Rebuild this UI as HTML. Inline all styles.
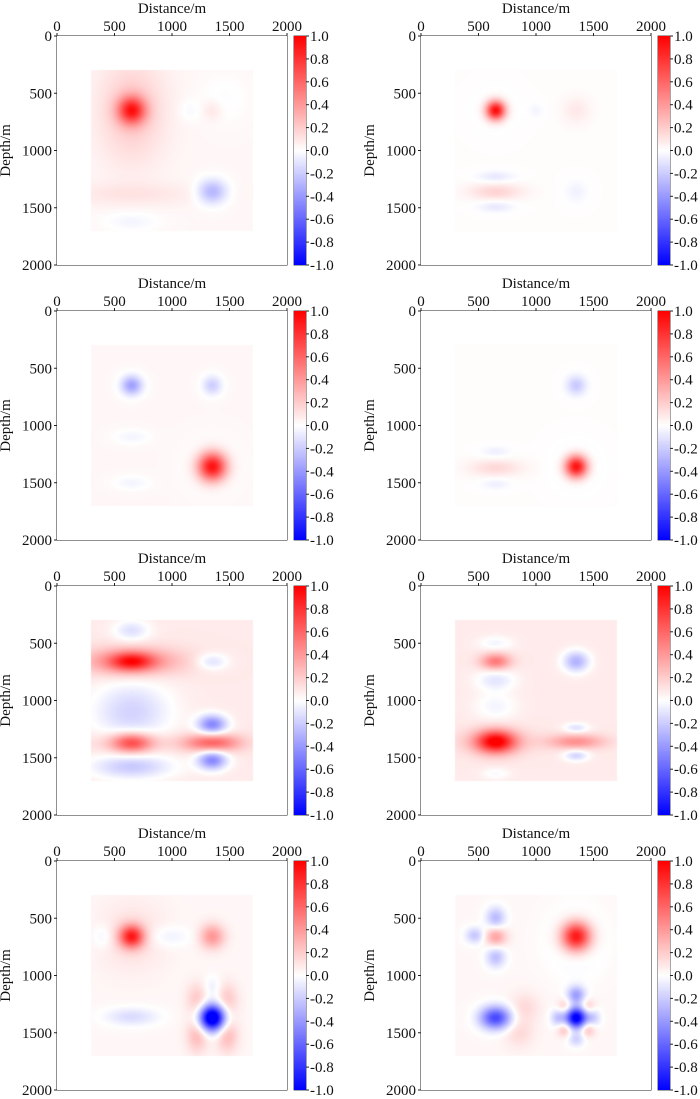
<!DOCTYPE html>
<html><head><meta charset="utf-8">
<style>
body{margin:0;background:#fff;width:700px;height:1099px;overflow:hidden;position:relative;font-family:"Liberation Serif",serif;}
canvas{position:absolute;}
svg{position:absolute;left:0;top:0;}
text{font-family:"Liberation Serif",serif;font-size:15px;fill:#111;}
</style></head>
<body>
<svg id="svg" width="700" height="1099"></svg>
<script>
// Blob data per panel: [x(m), z(m), sigmaX(m), sigmaZ(m), amplitude]
const panelLabels = ["(a)","(b)","(c)","(d)","(e)","(f)","(g)","(h)"];
const xTicks = [0,500,1000,1500,2000];
const yTicks = [0,500,1000,1500,2000];
const cbTicks = [1.0,0.8,0.6,0.4,0.2,0.0,-0.2,-0.4,-0.6,-0.8,-1.0];
const bgA = [0.03,0.01,0.03,0.01,0.08,0.08,0.03,0.03];
const blobsA = [[650,650,85,85,0.75],[650,650,200,320,0.18],[650,1380,450,70,0.07],[1350,1360,90,75,-0.33],[1350,650,60,60,0.08],[1150,650,70,70,-0.05],[650,1620,170,60,-0.07],[1450,550,150,150,-0.04]];
const blobsB = [[650,650,60,60,1.0],[650,650,120,120,-0.05],[650,1360,160,50,0.16],[650,1230,110,35,-0.1],[650,1490,110,35,-0.1],[1350,650,80,80,0.08],[1350,1360,70,70,-0.06],[1000,650,45,45,-0.05]];
const blobsC = [[650,650,65,60,-0.4],[1350,650,60,60,-0.22],[1350,1360,90,90,1.0],[1350,1360,150,150,-0.1],[650,1100,110,45,-0.07],[650,1500,110,45,-0.07]];
const blobsD = [[1350,1360,70,70,1.0],[1350,1360,130,130,-0.08],[1350,650,60,60,-0.22],[650,1370,160,50,0.14],[650,1230,90,35,-0.07],[650,1510,90,35,-0.07]];
const blobsE = [[650,660,130,55,0.55],[650,660,300,85,0.4],[650,390,110,65,-0.2],[650,1100,240,190,-0.25],[650,1370,120,60,0.55],[650,1370,260,65,0.15],[650,1580,250,75,-0.28],[1350,660,95,50,-0.2],[1350,1210,90,60,-0.55],[1350,1370,170,55,0.55],[1350,1520,90,60,-0.55]];
const blobsF = [[650,660,90,50,0.45],[650,500,110,45,-0.12],[650,820,120,65,-0.18],[650,1050,130,85,-0.12],[650,1360,120,70,0.85],[650,1360,240,75,0.15],[1350,660,80,65,-0.38],[1350,1360,170,45,0.35],[1350,1240,75,30,-0.2],[1350,1480,75,35,-0.25],[650,1640,90,35,-0.1]];
const blobsG = [[650,660,75,70,0.8],[650,660,210,210,0.1],[1350,660,75,75,0.38],[1350,1370,80,80,-1.3],[650,1360,160,55,-0.17],[400,660,65,75,-0.1],[960,660,140,65,-0.1],[1220,1220,65,105,0.2],[1480,1220,65,105,0.2],[1220,1520,65,105,0.25],[1480,1520,65,105,0.25],[1350,1100,55,65,-0.1]];
const blobsH = [[1350,660,90,90,0.95],[1350,700,190,230,-0.08],[650,660,65,60,0.35],[650,500,60,70,-0.3],[650,840,60,65,-0.28],[470,650,60,50,-0.25],[650,1370,95,70,-0.75],[1350,1370,65,65,-1.1],[1350,1170,55,55,-0.4],[1350,1560,50,45,-0.2],[1190,1370,45,55,-0.25],[1500,1370,45,55,-0.2],[1250,1270,45,45,0.2],[1450,1270,45,45,0.2],[1250,1470,45,45,0.25],[1450,1470,45,45,0.25],[900,1280,90,90,0.12],[850,1500,90,90,0.12]];
const panelBlobs = [blobsA,blobsB,blobsC,blobsD,blobsE,blobsF,blobsG,blobsH];

const colLeft = [57,421], rowTop = [36,311,586,861], W = 230, H = 229;
const NS = "http://www.w3.org/2000/svg";
const svg = document.getElementById('svg');
function mk(tag, attrs, txt){const e=document.createElementNS(NS,tag);for(const k in attrs)e.setAttribute(k,attrs[k]);if(txt!==undefined)e.textContent=txt;svg.appendChild(e);return e;}
function col(v){v=Math.max(-1,Math.min(1,v));let r,g,b;if(v>=0){r=255;g=b=Math.round(255*(1-v));}else{b=255;r=g=Math.round(255*(1+v));}return [r,g,b];}

panelLabels.forEach((lab,i)=>{
  const L=colLeft[i%2], T=rowTop[Math.floor(i/2)];
  const sx=m=>L+m/2000*W, sy=m=>T+m/2000*H;
  const cv=document.createElement('canvas');cv.width=W;cv.height=H;
  cv.style.left=L+'px';cv.style.top=T+'px';
  
  
  document.body.appendChild(cv);
  const ctx=cv.getContext('2d');const img=ctx.createImageData(W,H);
  const blobs=panelBlobs[i];
  for(let py=0;py<H;py++)for(let px=0;px<W;px++){
    const x=(px+0.5)/W*2000, z=(py+0.5)/H*2000;
    let v=0;
    if(x>=300&&x<=1700&&z>=300&&z<=1700){
      v=bgA[i];
      for(const b of blobs){const dx=(x-b[0])/b[2],dz=(z-b[1])/b[3];v+=b[4]*Math.exp(-0.5*(dx*dx+dz*dz));}
    }
    const c=col(v),k=(py*W+px)*4;img.data[k]=c[0];img.data[k+1]=c[1];img.data[k+2]=c[2];img.data[k+3]=255;
  }
  ctx.putImageData(img,0,0);
  const fr=mk('rect',{x:L,y:T,width:W,height:H,fill:'none',stroke:'#222','stroke-width':1});
  
  
  const xt=mk('text',{x:L+W/2,y:T-23,'text-anchor':'middle'},'Distance/m');
  
  
  xTicks.forEach(t=>{mk('line',{x1:sx(t),x2:sx(t),y1:T,y2:T-3,stroke:'#222'});
    const e=mk('text',{x:sx(t),y:T-5,'text-anchor':'middle'},String(t));
    
    });
  yTicks.forEach(t=>{mk('line',{x1:L,x2:L-3,y1:sy(t),y2:sy(t),stroke:'#222'});
    const e=mk('text',{x:L-5,y:sy(t)+5,'text-anchor':'end'},String(t));
    
    });
  const yt=mk('text',{x:0,y:0,'text-anchor':'middle',transform:`translate(${L-47},${T+H/2}) rotate(-90)`},'Depth/m');
  
  
  const pl=mk('text',{x:L+W-8,y:T+H-10,'text-anchor':'end'},lab);
  
  
  const CL=L+237, CW=12;
  const cb=document.createElement('canvas');cb.width=CW;cb.height=H;
  cb.style.left=CL+'px';cb.style.top=T+'px';
  
  
  document.body.appendChild(cb);
  const c2=cb.getContext('2d');
  for(let py=0;py<H;py++){const c=col(1-2*(py+0.5)/H);c2.fillStyle=`rgb(${c[0]},${c[1]},${c[2]})`;c2.fillRect(0,py,CW,1);}
  mk('rect',{x:CL,y:T,width:CW,height:H,fill:'none',stroke:'#222','stroke-width':0.8});
  cbTicks.forEach(t=>{const y=T+(1-t)/2*H;mk('line',{x1:CL+CW,x2:CL+CW+3,y1:y,y2:y,stroke:'#222'});
    const e=mk('text',{x:CL+CW+4,y:y+5},t.toFixed(1));
    
    });
});
</script>
</body></html>
